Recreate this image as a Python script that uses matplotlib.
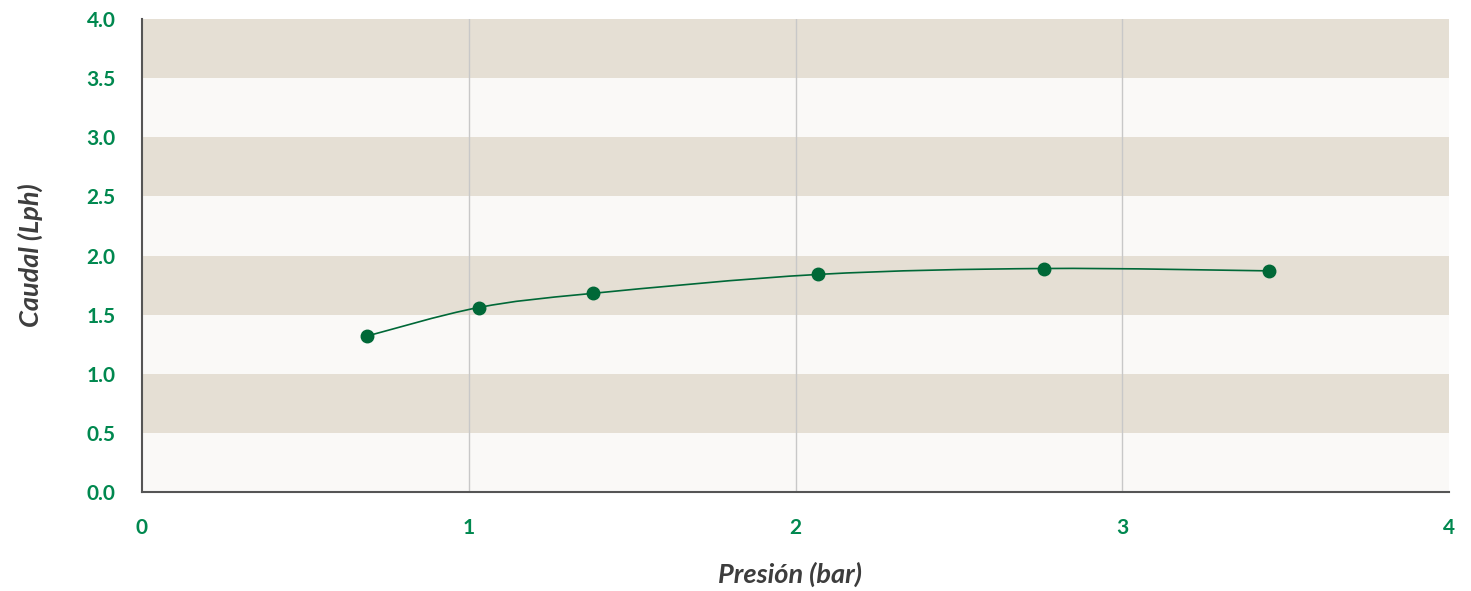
import matplotlib.pyplot as plt
from matplotlib.path import Path
import matplotlib.patches as mpatches

# === data ===
presion_bar = [0.69, 1.03, 1.38, 2.07, 2.76, 3.45]
caudal_lph = [1.32, 1.56, 1.68, 1.84, 1.89, 1.87]
y_ticks = [0.0, 0.5, 1.0, 1.5, 2.0, 2.5, 3.0, 3.5, 4.0]
x_ticks = [0, 1, 2, 3, 4]

green_txt = "#00884f"
green_line = "#006837"
band_dark = "#e5dfd4"
band_light = "#faf9f7"

plt.rcParams["font.family"] = ["Lato", "DejaVu Sans"]

fig = plt.figure(figsize=(14.71, 5.91), dpi=100)
ax = fig.add_axes([142 / 1471, 1 - 492 / 591, 1307 / 1471, 473 / 591])

# alternating bands
for i in range(len(y_ticks) - 1):
    col = band_light if i % 2 == 0 else band_dark
    ax.axhspan(y_ticks[i], y_ticks[i + 1], color=col, lw=0, zorder=0)

for xv in x_ticks[1:-1]:
    ax.axvline(xv, color="#c8c8c8", lw=1.0, zorder=1)

# smooth curve through points (catmull-rom -> bezier)
pts = list(zip(presion_bar, caudal_lph))
verts = [pts[0]]
codes = [Path.MOVETO]
for i in range(len(pts) - 1):
    p0 = pts[i - 1] if i > 0 else pts[i]
    p1 = pts[i]
    p2 = pts[i + 1]
    p3 = pts[i + 2] if i + 2 < len(pts) else pts[i + 1]
    c1 = (p1[0] + (p2[0] - p0[0]) / 6, p1[1] + (p2[1] - p0[1]) / 6)
    c2 = (p2[0] - (p3[0] - p1[0]) / 6, p2[1] - (p3[1] - p1[1]) / 6)
    verts += [c1, c2, p2]
    codes += [Path.CURVE4] * 3
ax.add_patch(mpatches.PathPatch(Path(verts, codes), fill=False, edgecolor=green_line, lw=1.2, zorder=3))
ax.plot(presion_bar, caudal_lph, "o", color=green_line, ms=9, zorder=4)

ax.set_xlim(0, 4)
ax.set_ylim(0, 4)
ax.set_xticks(x_ticks)
ax.set_yticks(y_ticks)
ax.set_xticklabels([str(v) for v in x_ticks])
ax.set_yticklabels([f"{v:.1f}" for v in y_ticks])
ax.tick_params(length=0, labelsize=15, labelcolor=green_txt)
ax.tick_params(axis="y", pad=19)
ax.tick_params(axis="x", pad=19)
for lab in ax.get_xticklabels() + ax.get_yticklabels():
    lab.set_fontweight("bold")

for s in ["top", "right"]:
    ax.spines[s].set_visible(False)
for s in ["left", "bottom"]:
    ax.spines[s].set_color("#555555")
    ax.spines[s].set_linewidth(1.5)

fig.text(790 / 1471, 1 - 574 / 591, "Presión (bar)", fontsize=19.5, fontweight="bold", style="italic",
         color="#3d3d3d", ha="center", va="center")
fig.text(30 / 1471, 1 - 255 / 591, "Caudal (Lph)", fontsize=19.5, fontweight="bold", style="italic",
         color="#3d3d3d", ha="center", va="center", rotation=90)

plt.savefig("out.png", dpi=100)
